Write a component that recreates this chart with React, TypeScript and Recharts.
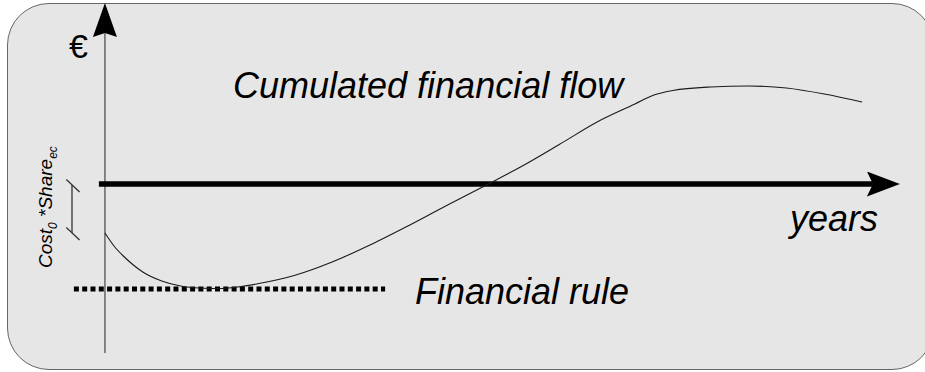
import React from "react";
import {
  ComposedChart,
  Line,
  XAxis,
  YAxis,
  ReferenceLine,
} from "recharts";

// cumulated financial flow (years, k€)
const years = [0, 0.25, 0.5, 0.75, 1, 1.5, 2, 2.5, 3, 3.5, 4, 5, 6, 7, 8, 9, 10, 11, 12, 13, 14, 14.5, 15, 16, 17, 18, 19, 20];
const flow = [-4.9, -6.25, -7.25, -8.1, -8.8, -9.7, -10.2, -10.4, -10.45, -10.3, -10.0, -9.15, -7.8, -6.1, -4.2, -2.2, -0.25, 1.75, 3.95, 6.2, 8.0, 8.9, 9.35, 9.7, 9.8, 9.6, 9.0, 8.2];

// financial rule (dotted level)
const ruleYears = [-0.82, 7.4];
const ruleLevel = -10.5;

// Cost0 * Share_ec dimension mark
const dimYear = -0.87;
const dimTop = -0.1;
const dimBottom = -4.9;

const flowData = years.map((year, i) => ({ year, flow: flow[i] }));
const ruleData = ruleYears.map((year) => ({ year, rule: ruleLevel }));

const FONT = '"Liberation Sans", Arial, sans-serif';

export default function App() {
  return (
    <div
      style={{
        position: "fixed",
        left: 0,
        top: 0,
        width: 925,
        height: 372,
        background: "#fff",
        overflow: "hidden",
      }}
    >
      {/* rounded frame */}
      <div
        style={{
          position: "absolute",
          left: 7,
          top: 3,
          width: 925,
          height: 365,
          border: "1.5px solid #666",
          borderRadius: 42,
          background: "#e6e6e6",
        }}
      />

      <svg width={0} height={0} style={{ position: "absolute" }}>
        <defs>
          <marker
            id="arrowV"
            viewBox="0 0 34 24"
            markerWidth={34}
            markerHeight={24}
            refX={4}
            refY={12}
            orient="auto"
            markerUnits="userSpaceOnUse"
          >
            <path d="M0,0 L34,12 L0,24 L4,12 Z" fill="#000" />
          </marker>
          <marker
            id="arrowH"
            viewBox="0 0 33 25"
            markerWidth={33}
            markerHeight={25}
            refX={6}
            refY={12.5}
            orient="auto"
            markerUnits="userSpaceOnUse"
          >
            <path d="M0,0 L33,12.5 L0,25 L6,12.5 Z" fill="#000" />
          </marker>
        </defs>
      </svg>

      <div style={{ position: "absolute", left: 0, top: 0 }}>
        <ComposedChart
          width={925}
          height={372}
          margin={{ top: 3, right: 25, bottom: 18, left: 59.5 }}
        >
          <XAxis
            type="number"
            dataKey="year"
            domain={[-1.2, 21]}
            allowDataOverflow
            hide
          />
          <YAxis type="number" domain={[-17, 18.1]} allowDataOverflow hide />

          {/* vertical axis */}
          <ReferenceLine
            segment={[
              { x: 0, y: -16.9 },
              { x: 0, y: 15.1 },
            ]}
            stroke="#6e6e6e"
            strokeWidth={1.6}
            markerEnd="url(#arrowV)"
            ifOverflow="visible"
          />

          {/* years axis */}
          <ReferenceLine
            segment={[
              { x: -0.16, y: 0 },
              { x: 20.285, y: 0 },
            ]}
            stroke="#000"
            strokeWidth={5.5}
            markerEnd="url(#arrowH)"
            ifOverflow="visible"
          />

          {/* dimension mark */}
          <ReferenceLine
            segment={[
              { x: dimYear, y: dimTop },
              { x: dimYear, y: dimBottom },
            ]}
            stroke="#333"
            strokeWidth={1.3}
            ifOverflow="visible"
          />
          <ReferenceLine
            segment={[
              { x: dimYear - 0.15, y: dimTop + 0.55 },
              { x: dimYear + 0.2, y: dimTop - 0.7 },
            ]}
            stroke="#333"
            strokeWidth={1.3}
            ifOverflow="visible"
          />
          <ReferenceLine
            segment={[
              { x: dimYear - 0.15, y: dimBottom + 0.55 },
              { x: dimYear + 0.2, y: dimBottom - 0.7 },
            ]}
            stroke="#333"
            strokeWidth={1.3}
            ifOverflow="visible"
          />

          <Line
            data={ruleData}
            dataKey="rule"
            type="linear"
            stroke="#000"
            strokeWidth={5}
            strokeDasharray="5 3.3"
            dot={false}
            activeDot={false}
            isAnimationActive={false}
          />
          <Line
            data={flowData}
            dataKey="flow"
            type="monotone"
            stroke="#1a1a1a"
            strokeWidth={1.1}
            dot={false}
            activeDot={false}
            isAnimationActive={false}
          />
        </ComposedChart>
      </div>

      {/* labels */}
      <svg
        width={925}
        height={372}
        style={{ position: "absolute", left: 0, top: 0, pointerEvents: "none" }}
        fontFamily={FONT}
      >
        <text x={69} y={58} fontSize={34} fill="#000">
          €
        </text>
        <text x={233} y={98} fontSize={36} fontStyle="italic" fill="#000">
          Cumulated financial flow
        </text>
        <text x={790} y={231} fontSize={36} fontStyle="italic" fill="#000">
          years
        </text>
        <text x={415} y={304} fontSize={36} fontStyle="italic" fill="#000">
          Financial rule
        </text>
        <text
          transform="translate(52,268) rotate(-90)"
          fontSize={19}
          fontStyle="italic"
          fill="#000"
        >
          Cost
          <tspan fontSize={12} dy={5}>
            0
          </tspan>
          <tspan dy={-5}> *Share</tspan>
          <tspan fontSize={12} dy={5}>
            ec
          </tspan>
        </text>
      </svg>
    </div>
  );
}
